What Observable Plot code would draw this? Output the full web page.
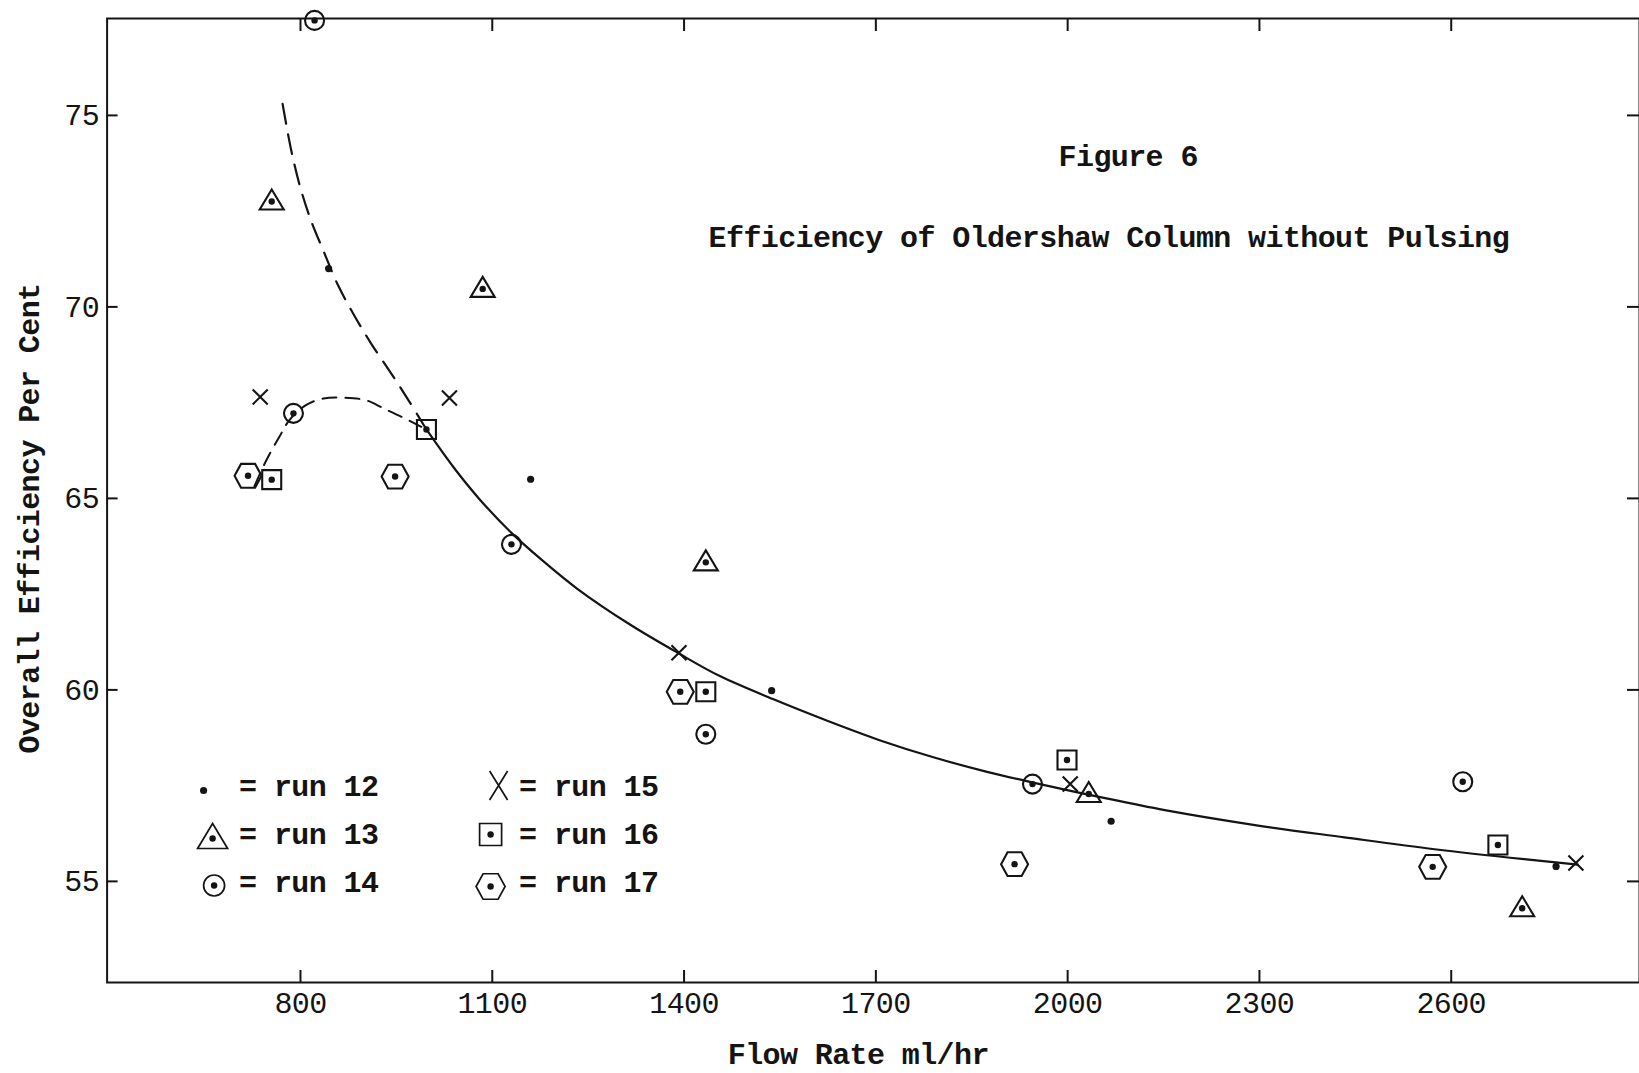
<!DOCTYPE html>
<html>
<head>
<meta charset="utf-8">
<script src="https://cdn.jsdelivr.net/npm/d3@7"></script>
<script src="https://cdn.jsdelivr.net/npm/@observablehq/plot@0.6"></script>
<style>
  html, body { margin: 0; padding: 0; background: #fff; }
  #chart svg { display: block; }
</style>
</head>
<body>
<div id="chart"></div>
<script>
// Flow rate (ml/hr) and overall efficiency (per cent) measured in each run
const run12Flow = [844, 1160, 1537, 2068, 2764];
const run12Eff  = [71.0, 65.5, 59.98, 56.57, 55.39];
const run13Flow = [755, 1085, 1434, 2033, 2711];
const run13Eff  = [72.75, 70.47, 63.33, 57.28, 54.3];
const run14Flow = [822, 789, 1130, 1434, 1945, 2618];
const run14Eff  = [77.48, 67.22, 63.8, 58.84, 57.54, 57.6];
const run15Flow = [737, 1033, 1392, 2004, 2795];
const run15Eff  = [67.65, 67.62, 60.97, 57.54, 55.48];
const run16Flow = [755, 997, 1434, 1999, 2673];
const run16Eff  = [65.49, 66.8, 59.95, 58.17, 55.95];
const run17Flow = [718, 948, 1394, 1917, 2571];
const run17Eff  = [65.59, 65.57, 59.95, 55.45, 55.38];

// Hand-drawn trend curves
const steepFlow = [772, 778, 786, 800, 817, 836, 858, 883, 911, 942, 969, 997];
const steepEff  = [75.3, 74.74, 74.05, 73.1, 72.23, 71.46, 70.59, 69.81, 69.03, 68.26, 67.56, 66.8];
const trendFlow = [997, 1040, 1080, 1130, 1177, 1233, 1316, 1392, 1456, 1539, 1623, 1707, 1790, 1874, 1946, 2051, 2152, 2293, 2433, 2574, 2714, 2798];
const trendEff  = [66.8, 65.8, 64.98, 64.1, 63.4, 62.64, 61.7, 60.95, 60.36, 59.76, 59.2, 58.68, 58.24, 57.86, 57.58, 57.2, 56.86, 56.47, 56.15, 55.84, 55.58, 55.44];
const humpFlow  = [728, 747, 767, 783, 808, 836, 869, 903, 930, 958, 989];
const humpEff   = [65.32, 66.01, 66.61, 67.05, 67.43, 67.61, 67.63, 67.56, 67.35, 67.13, 66.87];

const flowTicks = [800, 1100, 1400, 1700, 2000, 2300, 2600];
const effTicks = [55, 60, 65, 70, 75];

const runLabels = ["run 12", "run 13", "run 14", "run 15", "run 16", "run 17"];
const runFlows = [run12Flow, run13Flow, run14Flow, run15Flow, run16Flow, run17Flow];
const runEffs = [run12Eff, run13Eff, run14Eff, run15Eff, run16Eff, run17Eff];

const titleText = "Figure 6";
const subtitleText = "Efficiency of Oldershaw Column without Pulsing";
const xLabelText = "Flow Rate ml/hr";
const yLabelText = "Overall Efficiency Per Cent";

// ---- styling ----
const ink = "#141414";
const font = "'Liberation Mono', 'DejaVu Sans Mono', monospace";

const rOf = (size) => Math.sqrt(size / Math.PI);
const triangleSym = {draw(c, size) { const r = rOf(size);
  c.moveTo(0, -1.2 * r); c.lineTo(1.2 * r, 0.8 * r); c.lineTo(-1.2 * r, 0.8 * r); c.closePath(); }};
const squareSym = {draw(c, size) { const r = rOf(size);
  c.moveTo(-r, -r); c.lineTo(r, -r); c.lineTo(r, r); c.lineTo(-r, r); c.closePath(); }};
const hexagonSym = {draw(c, size) { const r = rOf(size), h = 0.88 * r, e = 0.52 * r;
  c.moveTo(-r, 0); c.lineTo(-e, -h); c.lineTo(e, -h); c.lineTo(r, 0); c.lineTo(e, h); c.lineTo(-e, h); c.closePath(); }};
const timesSym = (aspect) => ({draw(c, size) { const r = rOf(size), w = r * aspect;
  c.moveTo(-w, -r); c.lineTo(w, r); c.moveTo(w, -r); c.lineTo(-w, r); }});

// marker shape per run: plot size and legend size
const runStyle = [
  {symbol: null, dotR: 3.6},
  {symbol: triangleSym, r: 10, legendR: 12.5, dotR: 3.2},
  {symbol: "circle", r: 9.5, legendR: 10.5, dotR: 3.2},
  {symbol: timesSym(1), legendSymbol: timesSym(0.62), r: 7.5, legendR: 14.5, dotR: 0},
  {symbol: squareSym, r: 9.5, legendR: 11, dotR: 3.2},
  {symbol: hexagonSym, r: 13.5, legendR: 14.5, dotR: 3.2}
];

// legend placement, in pixels from the bottom-left corner of the frame
const legendPlace = [
  {sx: 96.5, sy: -192, tx: 132, ty: -196},
  {sx: 105.5, sy: -144, tx: 132, ty: -148},
  {sx: 107, sy: -97, tx: 132, ty: -100},
  {sx: 391.5, sy: -197, tx: 412, ty: -196},
  {sx: 383.5, sy: -148, tx: 412, ty: -148},
  {sx: 383.5, sy: -96, tx: 412, ty: -100}
];

const points = runLabels.flatMap((run, k) =>
  runFlows[k].map((flow, i) => ({run, k, flow, eff: runEffs[k][i]})));
const curve = (fx, fy) => fx.map((f, i) => ({flow: f, eff: fy[i]}));

const markerMarks = runLabels.flatMap((run, k) => {
  const s = runStyle[k];
  const data = points.filter(d => d.k === k);
  const out = [];
  if (s.symbol) out.push(Plot.dot(data, {x: "flow", y: "eff", symbol: s.symbol, r: s.r,
    fill: "none", stroke: ink, strokeWidth: 2.1}));
  if (s.dotR) out.push(Plot.dot(data, {x: "flow", y: "eff", r: s.dotR, fill: ink, stroke: "none"}));
  return out;
});

const legendMarks = runLabels.flatMap((run, k) => {
  const s = runStyle[k], p = legendPlace[k];
  const base = {frameAnchor: "bottom-left", dx: p.sx, dy: p.sy};
  const out = [];
  if (s.symbol) out.push(Plot.dot([run], {...base, symbol: s.legendSymbol || s.symbol, r: s.legendR,
    fill: "none", stroke: ink, strokeWidth: 1.7}));
  if (s.dotR) out.push(Plot.dot([run], {...base, r: s.dotR, fill: ink, stroke: "none"}));
  out.push(Plot.text([run], {frameAnchor: "bottom-left", dx: p.tx, dy: p.ty, text: d => "= " + d,
    textAnchor: "start", lineAnchor: "middle", fill: ink}));
  return out;
});

const plain = d => String(d);

const chart = Plot.plot({
  width: 1639,
  height: 1073,
  marginLeft: 106.6,
  marginRight: 0,
  marginTop: 18,
  marginBottom: 91,
  x: {domain: [497.5, 2894.5], axis: null},
  y: {domain: [52.36, 77.53], axis: null},
  style: {fontFamily: font, fontSize: "30px", fontWeight: "bold", color: ink, background: "#fff", letterSpacing: "-0.6px"},
  marks: [
    Plot.frame({stroke: ink, strokeWidth: 2}),
    // inward ticks on all four sides
    Plot.axisX(flowTicks, {anchor: "bottom", tickSize: -12, strokeWidth: 2, fill: "none", label: null}),
    Plot.axisX(flowTicks, {anchor: "top", tickSize: -12, strokeWidth: 2, fill: "none", label: null}),
    Plot.axisY(effTicks, {anchor: "left", tickSize: -11, strokeWidth: 2, fill: "none", label: null}),
    Plot.axisY(effTicks, {anchor: "right", tickSize: -13, strokeWidth: 2, fill: "none", label: null}),
    // tick labels
    Plot.axisX(flowTicks, {anchor: "bottom", tickSize: 0, tickPadding: 9, label: null, fill: ink,
      tickFormat: plain, fontWeight: "normal"}),
    Plot.axisY(effTicks, {anchor: "left", tickSize: 0, tickPadding: 8, label: null, fill: ink,
      tickFormat: plain, fontWeight: "normal"}),
    // trend curves
    Plot.line(curve(steepFlow, steepEff), {x: "flow", y: "eff", curve: "catmull-rom",
      stroke: ink, strokeWidth: 2.2, strokeDasharray: "20,11"}),
    Plot.line(curve(humpFlow, humpEff), {x: "flow", y: "eff", curve: "catmull-rom",
      stroke: ink, strokeWidth: 2, strokeDasharray: "14,9"}),
    Plot.line(curve(trendFlow, trendEff), {x: "flow", y: "eff", curve: "catmull-rom",
      stroke: ink, strokeWidth: 2.2}),
    ...markerMarks,
    ...legendMarks,
    // titles
    Plot.text([titleText], {frameAnchor: "top-left", dx: 951.5, dy: 138, text: d => d,
      textAnchor: "start", lineAnchor: "middle", fill: ink}),
    Plot.text([subtitleText], {frameAnchor: "top-left", dx: 601.5, dy: 219, text: d => d,
      textAnchor: "start", lineAnchor: "middle", fill: ink}),
    Plot.text([xLabelText], {frameAnchor: "bottom", dx: -15, dy: 72, text: d => d,
      textAnchor: "middle", lineAnchor: "middle", fill: ink}),
    Plot.text([yLabelText], {frameAnchor: "left", dx: -78, dy: 18, rotate: -90, text: d => d,
      textAnchor: "middle", lineAnchor: "middle", fill: ink})
  ]
});

document.getElementById("chart").appendChild(chart);
</script>
</body>
</html>
